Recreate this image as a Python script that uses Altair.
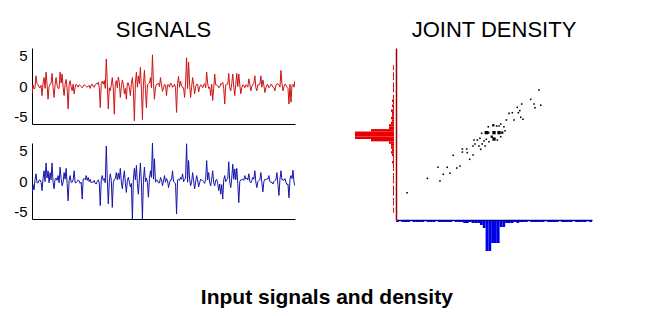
import altair as alt
import pandas as pd

# ---- data ----
# spike samples (every other sample) and the small in-between samples
red_main = [
    -1.3, -0.5, 1.7, 0.2, -0.3, -1.6, 1.4, 2.3, -2.2, 0.3,
    2.1, -1.9, 1.4, -0.4, 2.3, 2.0, -1.6, 1.1, -3.8, 0.9,
    -0.8, -1.3, 0.3, -0.2, 0.1, -0.3, 0.2, -0.1, 0.0, -0.4,
    0.3, -0.2, 0.4, 0.6, -3.6, 0.8, 0.9, 4.5, -3.8, -0.8,
    1.4, -4.7, 0.9, 1.5, -1.9, 1.0, -1.3, -2.2, 0.5, -1.6,
    1.4, -5.8, 2.3, 1.7, 3.1, -5.6, 2.6, -3.6, 0.4, 1.4,
    5.2, -2.2, 0.3, 0.5, 1.4, -0.9, 0.3, -1.6, 0.2, 0.5,
    -0.2, 0.3, -4.4, 1.6, 0.8, -0.3, -1.9, 4.7, 4.0, -1.9,
    1.4, -1.3, 0.3, -1.0, 0.2, -0.3, 0.4, 2.3, -0.4, -1.6,
    -2.4, 2.0, 0.2, -0.3, 0.4, 0.6, -3.0, 0.3, 2.1, -0.8,
    2.0, -1.6, 2.1, 2.0, -1.3, 0.2, -0.3, 0.1, 1.2, -0.8,
    0.3, 1.7, -0.8, 0.2, 1.7, 1.0, -1.1, 0.2, -0.3, 0.3,
    -0.2, -0.8, 0.4, 0.2, 2.6, -0.8, 0.3, -0.2, -3.0, -2.7,
    0.3, 0.9,
]
red_between = [
    0.2, -0.3, 0.4, -0.2, 0.1, 0.5, -0.4, 0.3, -0.1, 0.4,
    -0.3, 0.2, 0.1, -0.4, 0.5, -0.2, 0.3, -0.5, 0.2, -0.1,
    0.3, -0.2, 0.1, 0.2, -0.1, 0.0, 0.1, -0.2, 0.1, 0.2,
    -0.1, 0.2, 0.3, -0.2, 0.4, 0.3, -0.4, 0.5, -0.3, 0.2,
    -0.5, 0.4, -0.3, 0.6, -0.2, 0.3, -0.4, 0.5, -0.3, 0.4,
    -0.6, 0.5, -0.2, 0.4, -0.5, 0.3, -0.4, 0.2, 0.5, -0.3,
    0.4, -0.2, 0.3, -0.1, 0.2, -0.3, 0.1, 0.2, -0.2, 0.3,
    -0.1, -0.3, 0.4, -0.2, 0.1, -0.3, 0.5, -0.4, 0.3, -0.2,
    0.2, -0.1, 0.3, -0.2, 0.1, 0.2, -0.3, 0.4, -0.2, 0.3,
    -0.4, 0.2, 0.1, -0.2, 0.3, -0.4, 0.2, 0.3, -0.3, 0.4,
    -0.2, 0.3, -0.1, 0.2, -0.3, 0.1, 0.2, -0.2, 0.3, -0.1,
    0.4, -0.3, 0.2, 0.3, -0.2, 0.1, -0.3, 0.2, -0.1, 0.2,
    -0.3, 0.1, 0.3, -0.2, 0.4, -0.1, 0.2, -0.4, 0.3, 0.1,
    -0.2,
]
blue_main = [
    -2.0, -1.5, 1.2, -0.3, 0.2, -1.6, 1.7, 3.0, 1.7, 1.4,
    3.0, -1.3, 0.5, 0.9, 2.3, -0.8, 1.4, 2.1, -3.3, 0.9,
    -0.2, 1.7, -0.3, 0.2, -0.4, -3.0, 0.4, 0.9, 0.6, 0.3,
    -0.2, 0.1, -0.5, 0.2, -4.1, 0.9, 0.4, 5.8, -3.8, 1.2,
    -4.4, 0.3, 1.4, 1.3, 2.1, -1.3, 1.7, -1.9, 0.6, -1.0,
    -6.4, 2.1, 2.6, -2.2, 3.0, -6.4, 2.3, 0.5, -2.7, 1.7,
    6.4, 3.7, 0.2, -0.3, 0.6, -0.8, 0.9, 0.4, -1.1, 0.2,
    1.7, -0.3, -5.5, 0.3, 0.6, 1.2, 0.2, 6.2, 3.4, -0.8,
    1.4, -1.3, 0.9, -1.0, 0.3, 0.1, -0.4, 3.4, 1.4, -0.8,
    1.7, -0.8, 0.3, -1.6, -2.2, -3.0, 0.9, 0.2, 3.2, -1.1,
    2.8, 2.0, 2.1, -3.6, 0.2, 0.3, 0.9, 0.5, 1.2, -0.3,
    0.6, 1.7, -1.1, 0.1, 1.4, -1.8, 0.3, 0.4, 0.9, -0.2,
    -0.5, 0.1, 1.4, -2.4, 1.7, 0.2, 0.4, -0.6, -2.8, 0.9,
    1.8, -0.8,
]
blue_between = [
    -0.6, 0.2, -0.3, 0.1, -0.2, 0.4, -0.1, 0.5, -0.3, 0.2,
    -0.2, 0.3, 0.1, -0.3, 0.4, -0.2, 0.3, -0.4, 0.1, -0.2,
    0.2, -0.3, -0.1, 0.0, -0.2, 0.3, 0.2, 0.1, -0.1, -0.3,
    -0.2, -0.4, -0.1, -0.3, 0.2, 0.1, -0.3, 0.4, -0.2, 0.1,
    -0.3, 0.4, 0.2, 0.3, -0.2, 0.4, -0.3, 0.1, -0.2, -0.4,
    0.3, 0.2, -0.4, 0.5, -0.3, 0.2, -0.1, -0.3, 0.4, 0.6,
    0.3, -0.2, 0.1, -0.3, 0.2, 0.0, -0.2, 0.1, -0.3, 0.2,
    -0.1, -0.4, 0.2, 0.1, 0.3, -0.1, 0.5, -0.2, 0.3, -0.2,
    0.1, -0.2, 0.2, -0.3, 0.1, -0.1, 0.3, 0.2, -0.2, 0.3,
    -0.3, 0.1, -0.4, -0.5, -0.6, 0.2, -0.1, 0.4, -0.2, 0.5,
    0.3, 0.2, -0.4, -0.1, 0.2, 0.1, 0.3, 0.2, -0.1, 0.1,
    0.3, -0.2, -0.1, 0.2, -0.3, -0.1, 0.2, 0.3, -0.1, -0.2,
    -0.1, 0.2, -0.6, 0.3, 0.2, 0.1, -0.2, -0.5, 0.3, 0.4,
    -0.2,
]

scatter_x = [
    -6.21, -4.76, -3.86, -3.62, -3.14, -4.00, -3.34, -2.66, -2.43, -2.91,
    -2.26, -1.95, -2.26, -1.91, -1.74, -1.50, -1.43, -1.36, -1.07, -0.95,
    -1.50, -1.19, -1.00, -0.88, -0.55, -0.41, 0.00, 0.36, 0.59, -0.41,
    -0.05, 0.19, 0.00, -0.55, -0.36, -0.71, -0.84, -0.64, -0.16, 0.36,
    0.48, 0.71, 0.79, 0.48, 0.24, 0.88, 1.07, 1.31, 1.43, 1.66,
    1.84, 1.91, 1.74, 1.98, 2.07, 2.62, 2.86, 2.93, 3.34, 3.21,
]
scatter_y = [
    -4.78, -3.61, -3.83, -3.28, -3.20, -2.71, -2.71, -2.77, -2.60, -1.73,
    -1.22, -1.22, -1.47, -1.52, -2.06, -1.71, -0.49, -0.81, -0.98, -1.25,
    -0.98, -0.49, -0.35, 0.06, 0.11, 0.11, 0.11, 0.11, 0.11, 0.59,
    0.71, 0.65, -0.41, -0.43, -0.63, -0.57, -0.81, -0.98, -0.22, 0.65,
    0.81, 0.59, 0.27, -0.22, -0.49, 1.14, 1.68, 1.73, 1.14, 2.17,
    1.90, 1.36, 1.73, 2.44, 1.20, 2.82, 2.44, 2.14, 2.34, 3.58,
]
scatter_weight = [
    1, 1, 1, 1, 1, 1, 1, 1, 1, 1,
    1, 1, 1, 1, 1, 1, 1, 1, 1, 1,
    1, 1, 1, 1, 4, 2, 4, 4, 2, 1,
    2, 1, 4, 1, 1, 1, 1, 1, 2, 1,
    1, 1, 1, 1, 1, 1, 1, 1, 1, 1,
    1, 1, 1, 1, 1, 1, 1, 1, 1, 1,
]

hist_start = -7.0
hist_step = 0.2
red_hist_counts = [
    0, 0, 0,
    1, 1, 0, 1, 1, 1, 0, 1, 1, 1, 1, 0, 1, 1, 1, 1, 0, 1, 1, 1, 2, 1, 1,
    2, 3, 2, 3, 3,
    5, 23, 39, 39, 39, 23, 5, 5,
    3, 2, 3, 2, 2, 3, 1, 2, 1, 2,
    1, 1, 0, 1, 1, 1, 1, 0, 1, 1, 1, 0, 1, 1,
    0, 0, 0, 0, 0, 0, 0,
]
blue_hist_counts = [
    1, 0, 1, 1, 1, 0, 1, 1, 1, 1, 0, 1, 1, 1, 0, 1, 1, 1, 1, 1, 0, 1, 1, 1,
    2, 2, 1, 2, 2, 2,
    4, 7, 30, 30, 22, 22, 22, 6, 6,
    2, 2, 2, 1, 2,
    1, 1, 1, 0, 1, 1, 1, 1, 1, 0, 1, 1, 1, 1, 0, 1, 1, 1, 1, 0, 1, 1, 1, 1, 0, 1,
]

FONT = "Liberation Sans"
RED = "#cc1414"
BLUE = "#1414a8"


def interleave(main, between):
    out = []
    for k, v in enumerate(main):
        out.append(v)
        if k < len(between):
            out.append(between[k])
    return out


# ---- tables ----
red_signal = interleave(red_main, red_between)
blue_signal = interleave(blue_main, blue_between)
n = len(red_signal)
sig_df = pd.DataFrame({"t": list(range(n)), "red": red_signal, "blue": blue_signal})
sc_df = pd.DataFrame({"x": scatter_x, "y": scatter_y, "w": scatter_weight})
lo = [round(hist_start + hist_step * k, 3) for k in range(len(red_hist_counts))]
hi = [round(v + hist_step, 3) for v in lo]
rh_df = pd.DataFrame({"lo": lo, "hi": hi, "c": red_hist_counts, "base": 0})
bh_df = pd.DataFrame({"lo": lo, "hi": hi, "c": blue_hist_counts, "base": 0})


def signal_chart(col, color, title=None):
    ch = alt.Chart(sig_df).mark_line(color=color, strokeWidth=1, clip=True).encode(
        x=alt.X("t:Q", scale=alt.Scale(domain=[0, n - 1], nice=False, zero=False),
                axis=alt.Axis(labels=False, ticks=False, grid=False, title=None,
                              domainColor="black", domainWidth=1)),
        y=alt.Y(f"{col}:Q", scale=alt.Scale(domain=[-6.33, 6.33], nice=False),
                axis=alt.Axis(values=[-5, 0, 5], title=None, grid=False, ticks=False,
                              labelPadding=5, labelFontSize=15, labelFont=FONT,
                              labelColor="black", labelExpr="datum.value + ''",
                              domainColor="black", domainWidth=1)),
    )
    if title:
        return ch.properties(width=263, height=76,
                             title=alt.TitleParams(title, fontSize=22, font=FONT,
                                                   fontWeight="normal", offset=6,
                                                   color="black"))
    return ch.properties(width=263, height=76)


sig1 = signal_chart("red", RED, "SIGNALS")
sig2 = signal_chart("blue", BLUE)

scatter = alt.Chart(sc_df).mark_square(color="black", opacity=1, strokeWidth=0).encode(
    x=alt.X("x:Q", scale=alt.Scale(domain=[-7, 7], nice=False),
            axis=alt.Axis(labels=False, ticks=False, grid=False, title=None,
                          domainColor="#000080", domainWidth=1.5)),
    y=alt.Y("y:Q", scale=alt.Scale(domain=[-7, 7], nice=False),
            axis=alt.Axis(labels=False, ticks=False, grid=False, title=None,
                          domainColor="#990000", domainWidth=1.5)),
    size=alt.Size("w:Q", scale=alt.Scale(domain=[1, 4], range=[2.5, 11]), legend=None),
).properties(width=196, height=172,
             title=alt.TitleParams("JOINT DENSITY", fontSize=22, font=FONT,
                                   fontWeight="normal", offset=6, color="black"))

red_h = alt.Chart(rh_df).mark_rect(color="#e80000").encode(
    y=alt.Y("lo:Q", scale=alt.Scale(domain=[-7, 7], nice=False), axis=None),
    y2="hi:Q",
    x=alt.X("c:Q", scale=alt.Scale(domain=[0, 40], reverse=True, nice=False), axis=None),
    x2="base:Q",
).properties(width=40, height=172)

blue_h = alt.Chart(bh_df).mark_rect(color="#0000e8").encode(
    x=alt.X("lo:Q", scale=alt.Scale(domain=[-7, 7], nice=False), axis=None),
    x2="hi:Q",
    y=alt.Y("c:Q", scale=alt.Scale(domain=[0, 33], reverse=True, nice=False), axis=None),
    y2="base:Q",
).properties(width=196, height=33)

spacer = alt.Chart(pd.DataFrame({"v": [0]})).mark_point(opacity=0).encode(
    x=alt.X("v:Q", axis=None), y=alt.Y("v:Q", axis=None)
).properties(width=40, height=33)

left = alt.vconcat(sig1, sig2, spacing=19, bounds="flush")
top_row = alt.hconcat(red_h, scatter, spacing=2, bounds="flush")
bot_row = alt.hconcat(spacer, blue_h, spacing=2, bounds="flush")
right = alt.vconcat(top_row, bot_row, spacing=1)

chart = alt.hconcat(left, right, spacing=59).properties(
    title=alt.TitleParams("Input signals and density", orient="bottom", anchor="middle",
                          fontSize=21, font=FONT, fontWeight="bold",
                          color="black", offset=33, dx=24),
    padding={"left": 13, "top": 19, "right": 55, "bottom": 5},
    background="white",
).configure_view(strokeWidth=0)

chart.save("out.html", embed_options={"renderer": "svg", "actions": False})
